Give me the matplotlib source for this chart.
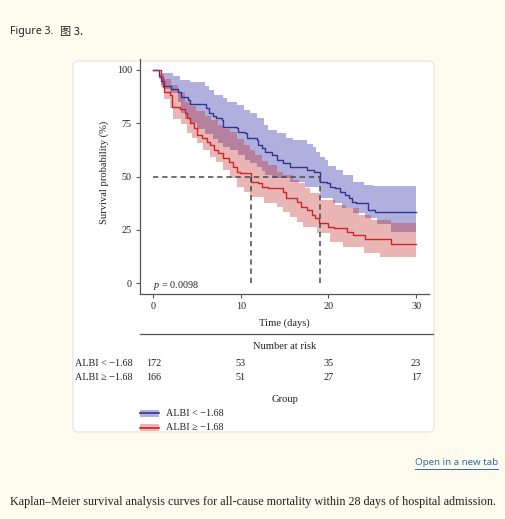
import numpy as np
import matplotlib
matplotlib.use("Agg")
import matplotlib.pyplot as plt
import matplotlib.transforms as mtransforms
from matplotlib.patches import FancyBboxPatch, Rectangle
from matplotlib.lines import Line2D

# ---------------- data ----------------
group_labels = ["ALBI < \u22121.68", "ALBI \u2265 \u22121.68"]
t_end = 30

# ALBI < -1.68 (blue)
blue_t = [0, 0.6, 0.9, 1.2, 2.0, 2.8, 3.2, 4.0, 4.2, 6.0, 6.3, 6.8, 7.1, 7.8, 8.0, 9.5, 9.7, 10.5, 10.7, 11.8,
          12.0, 12.4, 12.8, 13.5, 14.1, 14.8, 15.6, 17.5, 18.3, 19.0, 19.8, 20.2, 20.7, 21.3, 21.9, 22.3, 22.7, 23.1, 24.5, 25.3]
blue_s = [100, 97, 95, 92.5, 91, 89.8, 87.5, 86, 84, 82, 79.7, 78.5, 77.3, 76.6, 73.4, 72.7, 71, 70.3, 68, 67.2,
          64.8, 63.3, 61.7, 60, 57.8, 56.3, 54.7, 53.1, 52.3, 47.7, 46.9, 45.3, 44.5, 43, 41.4, 39.8, 38.3, 37.5, 34.4, 33.6]
blue_up_t = [0, 0.8, 2.3, 3.0, 4.2, 5.9, 6.4, 6.9, 8.0, 8.4, 9.5, 10.3, 11.0, 11.8, 12.6, 13.1, 14.1, 15.2, 16.0, 17.5,
             18.2, 18.6, 19.0, 19.6, 20.0, 20.9, 21.7, 22.8, 24.0, 25.1]
blue_up_v = [100, 98.4, 97, 95.5, 94.5, 92.5, 90.5, 88.5, 87, 85.2, 83.6, 81.3, 79.7, 77.3, 74.2, 71.9, 70.3, 68, 67.2, 65.5,
             64, 61.7, 59, 57.8, 55, 53.1, 50.8, 47.7, 46.2, 45.6]
blue_lo_t = [0, 0.6, 0.9, 1.2, 1.9, 2.8, 3.2, 3.6, 4.2, 5.0, 5.9, 6.8, 7.4, 8.0, 8.8, 9.7, 10.5, 11.0, 11.8, 12.4,
             12.8, 13.5, 15.6, 17.3, 19.0, 20.5, 21.5, 22.8, 24.2, 25.5, 27.1]
blue_lo_v = [100, 96, 93, 91, 89, 85, 80, 77, 75, 72.5, 70, 67.5, 66, 64, 62.5, 60, 58, 56.5, 54.5, 52.5,
             51, 49.5, 47.6, 45, 40, 37.5, 35.5, 33, 30.5, 28, 24.2]

# ALBI >= -1.68 (red)
red_t = [0, 0.84, 1.15, 1.2, 1.9, 2.1, 3.0, 3.6, 3.8, 4.2, 4.6, 4.95, 5.5, 6.1, 6.5, 6.9, 7.4, 8.0, 8.6, 9.1,
         9.5, 9.9, 11.15, 12.0, 12.4, 13.1, 14.8, 15.2, 16.4, 16.9, 17.5, 18.1, 18.5, 18.9, 20.0, 20.6, 22.1, 22.8, 24.2, 27.1]
red_s = [100, 96.9, 92, 89.8, 88.3, 82.5, 81.6, 79.7, 77.3, 75, 72.7, 69.5, 68, 66.4, 64.8, 62.5, 61, 58.6, 57, 54.7,
         52.3, 51.6, 47.7, 46.9, 45.3, 44.5, 43, 39.8, 38.3, 35.9, 34.4, 32, 30.5, 28.1, 26.6, 25.8, 24.2, 22.7, 20.6, 18.5]
red_up_t = [0, 0.9, 1.2, 2.0, 2.8, 3.6, 4.2, 4.9, 5.9, 6.6, 7.4, 8.0, 8.8, 9.5, 10.3, 11.0, 11.6, 12.4, 13.1, 14.1,
            14.8, 16.0, 16.6, 17.3, 17.9, 19.0, 20.7, 22.0, 23.5, 24.9, 27.1]
red_up_v = [100, 98, 96, 93, 89.5, 85, 83, 81, 78.5, 76.5, 74, 72.5, 71, 67.5, 65, 62.5, 60, 57.5, 55.5, 52,
            50.8, 48.4, 46.9, 44.5, 42.2, 39, 36.7, 35.2, 32, 29.7, 28.1]
red_lo_t = [0, 0.85, 1.2, 1.9, 2.3, 3.2, 3.8, 4.4, 4.95, 5.7, 6.5, 7.2, 8.0, 8.75, 9.5, 10.3, 11.0, 12.6, 14.1, 14.8,
            15.6, 16.4, 17.1, 18.65, 20.2, 21.7, 24.0, 25.9, 27.1]
red_lo_v = [100, 92, 86.3, 82.3, 76.9, 74.5, 70.6, 68.3, 65.6, 62.5, 59.4, 57, 53.1, 49.2, 45.3, 43, 40.6, 37.5, 35.9, 33.6,
            31.3, 28.9, 26.6, 23.4, 19.5, 17.2, 14.1, 12.5, 12.2]

median_low = 19.0
median_high = 11.15
p_value_text = "0.0098"

risk_times = [0, 10, 20, 30]
risk_low = [172, 53, 35, 23]
risk_high = [166, 51, 27, 17]

x_ticks = [0, 10, 20, 30]
y_ticks = [0, 25, 50, 75, 100]

# ---------------- style ----------------
W, H = 506, 519
BG = "#FFFBEF"
SERIF = "Liberation Serif"
FS = 7.3
TXT = "#222222"
blue_line, red_line = "#33348F", "#D0232A"
blue_fill, red_fill = "#1B1D9E", "#C32C2C"
FILL_A = 0.35

plt.rcParams["font.family"] = [SERIF, "DejaVu Serif"]
plt.rcParams["mathtext.fontset"] = "custom"
plt.rcParams["mathtext.rm"] = SERIF
plt.rcParams["mathtext.it"] = SERIF + ":italic"

fig = plt.figure(figsize=(W / 100, H / 100), dpi=100)
fig.patch.set_facecolor(BG)


def fx(x):
    return x / W


def fy(y):
    return 1 - y / H


# card
card = FancyBboxPatch((0.73, (H - 432) / 100), 3.61, 3.71,
                      boxstyle="round,pad=0,rounding_size=0.05",
                      transform=fig.dpi_scale_trans, fc="white", ec="#E2E2E2", lw=0.8, zorder=0)
fig.add_artist(card)

# main axes
x0, x1, y0, y1 = 140.2, 429.2, 59.3, 294.0
ax = fig.add_axes([fx(x0), fy(y1), (x1 - x0) / W, (y1 - y0) / H])
ax.set_facecolor("none")
ax.set_xlim(-1.5, 31.5)
ax.set_ylim(-5, 105)


def stepval(tt, vv, grid):
    tt = np.asarray(tt, float)
    vv = np.asarray(vv, float)
    idx = np.searchsorted(tt, grid, side="right") - 1
    return vv[np.clip(idx, 0, len(vv) - 1)]


def band(up_t, up_v, lo_t, lo_v, color):
    grid = np.unique(np.concatenate([up_t, lo_t, [t_end]]))
    hi = stepval(up_t, up_v, grid)
    lo = stepval(lo_t, lo_v, grid)
    ax.fill_between(grid, lo, hi, step="post", color=color, alpha=FILL_A, lw=0, zorder=1)


band(blue_up_t, blue_up_v, blue_lo_t, blue_lo_v, blue_fill)
band(red_up_t, red_up_v, red_lo_t, red_lo_v, red_fill)

for tt, ss, c in [(blue_t, blue_s, blue_line), (red_t, red_s, red_line)]:
    xs = list(tt) + [t_end]
    ys = list(ss) + [ss[-1]]
    ax.step(xs, ys, where="post", color=c, lw=1.0, zorder=3)

# median lines
dash = dict(color="#4A4A4A", lw=1.1, ls=(0, (3.5, 2.5)), zorder=4)
ax.plot([0, max(median_low, median_high)], [50, 50], **dash)
ax.plot([median_high, median_high], [0, 50], **dash)
ax.plot([median_low, median_low], [0, 50], **dash)

ax.text(0, -0.8, r"$p$ = " + p_value_text, fontsize=FS, color=TXT, ha="left", va="center")

for s in ["top", "right"]:
    ax.spines[s].set_visible(False)
for s in ["left", "bottom"]:
    ax.spines[s].set_color("#555555")
    ax.spines[s].set_linewidth(0.9)
ax.set_xticks(x_ticks)
ax.set_yticks(y_ticks)
ax.tick_params(axis="both", length=3, width=0.8, color="#555555", labelsize=FS, labelcolor=TXT)
ax.tick_params(axis="x", pad=2.5)
ax.tick_params(axis="y", pad=3)

fig.text(fx(104), fy(172), "Survival probability (%)", rotation=90, ha="center", va="center",
         fontsize=7.6, color=TXT)
fig.text(fx(284.7), fy(323.3), "Time (days)", ha="center", va="center", fontsize=7.6, color=TXT)

# risk table
fig.add_artist(Line2D([fx(140), fx(433)], [fy(334), fy(334)], transform=fig.transFigure,
                      color="#555555", lw=0.9))
fig.text(fx(284.7), fy(346.7), "Number at risk", ha="center", va="center", fontsize=7.6, color=TXT)
blend = mtransforms.blended_transform_factory(ax.transData, fig.transFigure)
for row_y, label, counts in [(363.3, group_labels[0], risk_low), (377.7, group_labels[1], risk_high)]:
    fig.text(fx(75), fy(row_y), label, ha="left", va="center", fontsize=FS, color=TXT)
    for t, n in zip(risk_times, counts):
        ax.text(t, fy(row_y), str(n), transform=blend, ha="center", va="center", fontsize=FS, color=TXT,
                clip_on=False)

# legend
fig.text(fx(284.7), fy(399), "Group", ha="center", va="center", fontsize=7.6, color=TXT)
for row_y, label, lc, fc in [(413.3, group_labels[0], blue_line, blue_fill),
                             (427.7, group_labels[1], red_line, red_fill)]:
    fig.add_artist(Rectangle((fx(140), fy(row_y + 3.5)), 19 / W, 7 / H, transform=fig.transFigure,
                             fc=fc, alpha=FILL_A, lw=0))
    fig.add_artist(Line2D([fx(140), fx(159)], [fy(row_y), fy(row_y)], transform=fig.transFigure,
                          color=lc, lw=1.2))
    fig.text(fx(166), fy(row_y), label, ha="left", va="center", fontsize=FS, color=TXT)

# page texts
renderer = fig.canvas.get_renderer()


def fit_text(x, y, s, width_px, ha="left", **kw):
    t = fig.text(fx(x), fy(y), s, ha=ha, va="center", **kw)
    bb = t.get_window_extent(renderer)
    t.set_fontsize(t.get_fontsize() * width_px / bb.width)
    return t


fit_text(10, 31.5, "Figure 3.", 43, fontsize=9, color="#222222", family=["Noto Sans", "DejaVu Sans"])
fit_text(60, 31.5, "\u56fe 3.", 23, fontsize=9, color="#222222",
         family=["Noto Sans CJK SC", "DejaVu Sans"])
fit_text(497.7, 462.5, "Open in a new tab", 83, ha="right", fontsize=8, color="#2E6DA4",
         family=["Noto Sans", "DejaVu Sans"])
fig.add_artist(Line2D([fx(414.5), fx(497.7)], [fy(468.5), fy(468.5)], transform=fig.transFigure,
                      color="#2E6DA4", lw=0.7))
fit_text(10, 501.5, "Kaplan\u2013Meier survival analysis curves for all-cause mortality within 28 days of hospital admission.",
         487, fontsize=8, color="#1E1E1E", family=["Liberation Serif"])

fig.savefig("out.png", dpi=100, facecolor=BG)
